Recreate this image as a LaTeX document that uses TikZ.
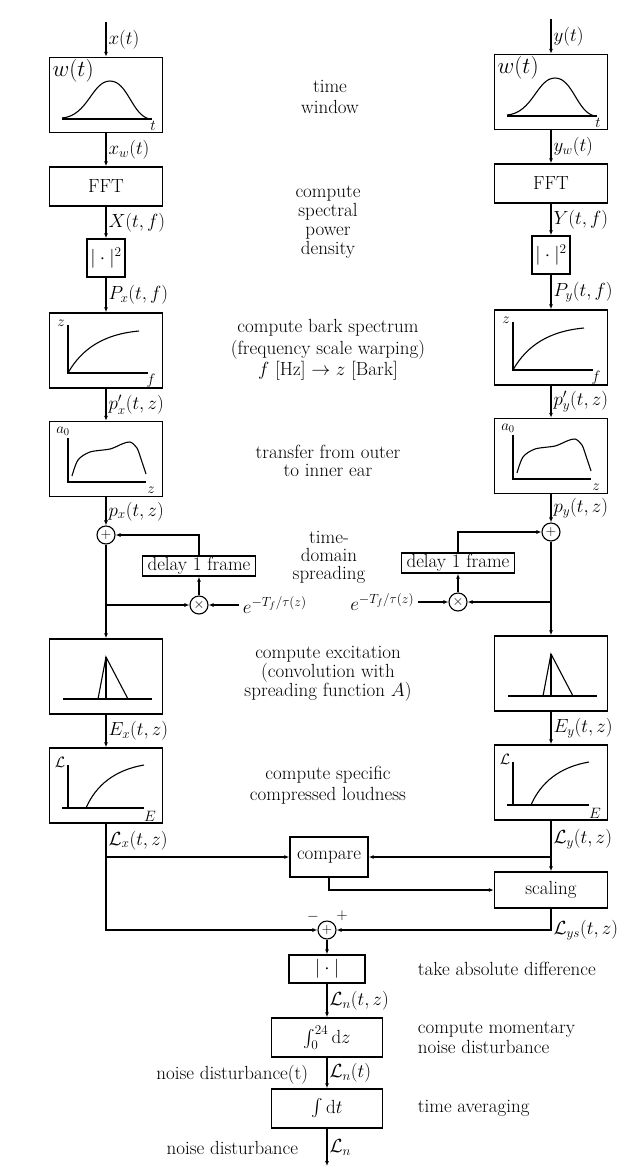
\documentclass[tikz,border=0pt]{standalone}
\usepackage{fix-cm}
\usepackage{amsmath}
\usetikzlibrary{arrows.meta, positioning, calc}

\begin{document}
\begin{tikzpicture}[
    x=1pt, y=-1pt, line width=1.1pt,
    every node/.style={font=\fontsize{19}{21.5}\selectfont},
    block/.style={rectangle, draw, line width=1.4pt, minimum width=113pt, minimum height=39pt, inner sep=2pt},
    graphbox/.style={block, minimum height=75pt},
    sqbox/.style={block, minimum width=38pt, minimum height=38pt},
    delaybox/.style={block, minimum height=20pt, inner sep=1pt},
    opnode/.style={circle, draw, line width=1.1pt, minimum size=18pt, inner sep=0pt, font=\fontsize{14}{14}\selectfont},
    arrow/.style={-{Latex[length=5pt, width=4pt]}},
    sig/.style={anchor=west, inner sep=2pt},
    gl/.style={inner sep=0pt, font=\fontsize{15}{15}\selectfont},
    note/.style={align=center}
]
\useasboundingbox (0,0) rectangle (629,1171);

% the two channels: reference x (left) and test y (right)
\foreach \ch/\CH/\sx/\sy/\dir/\side in {x/X/0/0/1/west, y/Y/445/-3/-1/east}{
  \begin{scope}[shift={(\sx,\sy)}]
    \coordinate (in\ch) at (106,22);
    \node (win\ch) [graphbox] at (106,95) {};
    \node (wl\ch) [anchor=north west, inner sep=1pt, font=\fontsize{23}{23}\selectfont] at (51,58) {$w(t)$};
    \draw (62,119) -- (152,119);
    \draw (62,118) .. controls (88,116) and (92,81) .. (110,81) .. controls (128,81) and (132,116) .. (150,119);
    \node (wt\ch) [gl] at (153,126) {$t$};

    \node (fft\ch) [block] at (106,186.5) {FFT};
    \node (sq\ch) [sqbox] at (106,258) {$|\cdot|^2$};

    \node (bk\ch) [graphbox] at (106,350.5) {};
    \draw (68,325) -- (68,373) -- (148,373);
    \draw (68,373) .. controls (82,348) and (105,334) .. (139,331);
    \node (bz\ch) [gl] at (61,323) {$z$};
    \node (bf\ch) [gl] at (151,381) {$f$};

    \node (tr\ch) [graphbox] at (106,459) {};
    \draw (68,438) -- (68,482) -- (146,482);
    \draw plot[smooth] coordinates {(72,476) (78,460) (90,452) (110,449) (122,444) (130,442) (137,448) (142,462) (146,474)};
    \node (ta\ch) [gl] at (63,431) {$a_0$};
    \node (tz\ch) [gl] at (151,490) {$z$};

    \node (add\ch) [opnode] at (106,535) {$+$};
    \node (dly\ch) [delaybox] at ({106+(\dir)*93},566) {delay 1 frame};
    \node (mul\ch) [opnode] at ({106+(\dir)*93},605) {$\times$};
    \node (ef\ch) [anchor=\side] at ({106+(\dir)*133},605) {$e^{-T_f/\tau(z)}$};

    \node (exc\ch) [graphbox] at (106,676.5) {};
    \draw (63,699) -- (152,699);
    \draw (98,699) -- (106,657) -- (128,699);
    \draw (106,657) -- (106,699);

    \node (loud\ch) [graphbox] at (106,785.5) {};
    \draw (68,765) -- (68,808);
    \draw (62,808) -- (144,808);
    \draw (86,808) .. controls (96,785) and (115,770) .. (144,765);
    \node (lL\ch) [gl] at (60,762) {$\mathcal{L}$};
    \node (lE\ch) [gl] at (150,816) {$E$};

    \draw[arrow] (in\ch) -- node[sig] (s1\ch) {$\ch(t)$} (win\ch);
    \draw[arrow] (win\ch) -- node[sig] (s2\ch) {$\ch_w(t)$} (fft\ch);
    \draw[arrow] (fft\ch) -- node[sig] (s3\ch) {$\CH(t,f)$} (sq\ch);
    \draw[arrow] (sq\ch) -- node[sig] (s4\ch) {$P_\ch(t,f)$} (bk\ch);
    \draw[arrow] (bk\ch) -- node[sig] (s5\ch) {$p'_\ch(t,z)$} (tr\ch);
    \draw[arrow] (tr\ch) -- node[sig] (s6\ch) {$p_\ch(t,z)$} (add\ch);
    \draw[arrow] (add\ch) -- (exc\ch);
    \draw[arrow] (add\ch |- mul\ch) -- (mul\ch);
    \draw[arrow] (ef\ch.\side) -- (mul\ch);
    \draw[arrow] (mul\ch) -- (dly\ch);
    \draw[arrow] (dly\ch) |- (add\ch);
    \draw[arrow] (exc\ch) -- node[sig] (s7\ch) {$E_\ch(t,z)$} (loud\ch);
  \end{scope}
}

\node (cmp) [block, minimum width=78pt, minimum height=40pt] at (329,857) {compare};
\node (scal) [block, minimum height=36pt] at (551,890) {scaling};
\node (diff) [opnode] at (327,930) {$+$};
\node (mlab) [gl] at (313,917) {$-$};
\node (plab) [gl] at (342,916) {$+$};
\node (absv) [block, minimum width=76pt, minimum height=28pt] at (327,969) {$|\cdot|$};
\node (intz) [block, minimum width=111pt] at (327,1037.5) {$\int_0^{24}\mathrm{d}z$};
\node (intt) [block, minimum width=111pt] at (327,1108.5) {$\int\mathrm{d}t$};
\coordinate (out) at (327,1166);

\draw (loudx) -- node[sig] (s8x) {$\mathcal{L}_x(t,z)$} (loudx |- cmp);
\draw[arrow] (loudx |- cmp) -- (cmp);
\draw[arrow] (loudx |- cmp) |- (diff);
\draw (loudy) -- node[sig] (s8y) {$\mathcal{L}_y(t,z)$} (loudy |- cmp);
\draw[arrow] (loudy |- cmp) -- (cmp);
\draw[arrow] (loudy |- cmp) -- (scal);
\draw[arrow] (cmp) |- (scal);
\draw[arrow] (scal) |- node[sig, pos=0.5] (s9) {$\mathcal{L}_{ys}(t,z)$} (diff);
\draw[arrow] (diff) -- (absv);
\draw[arrow] (absv) -- node[sig] (s10) {$\mathcal{L}_n(t,z)$} (intz);
\draw[arrow] (intz) -- node[sig] (s11) {$\mathcal{L}_n(t)$} (intt);
\draw[arrow] (intt) -- node[sig] (s12) {$\mathcal{L}_n$} (out);

% descriptions
\node (nwin) [note] at (330,97) {time\\window};
\node (npsd) [note, font=\fontsize{19}{19}\selectfont] at (328,222) {compute\\spectral\\power\\density};
\node (nbark) [note] at (328,350) {compute bark spectrum\\(frequency scale warping)\\$f$ [Hz] $\to$ $z$ [Bark]};
\node (near) [note, font=\fontsize{19}{18}\selectfont] at (328,461) {transfer from outer\\to inner ear};
\node (nspr) [note, font=\fontsize{19}{18}\selectfont] at (329,557) {time-\\domain\\spreading};
\node (nexc) [note, font=\fontsize{19}{19}\selectfont] at (328,674) {compute excitation\\(convolution with\\spreading function $A$)};
\node (nloud) [note] at (328,785) {compute specific\\compressed loudness};
\node (nabs) [anchor=west] at (414,969) {take absolute difference};
\node (nmom) [anchor=west, align=left, font=\fontsize{19}{20}\selectfont] at (414,1038) {compute momentary\\noise disturbance};
\node (navg) [anchor=west] at (414,1108) {time averaging};
\node (nd1) [anchor=east] at (312,1075) {noise disturbance(t)};
\node (nd2) [anchor=east] at (302,1148) {noise disturbance};
\end{tikzpicture}
\end{document}
